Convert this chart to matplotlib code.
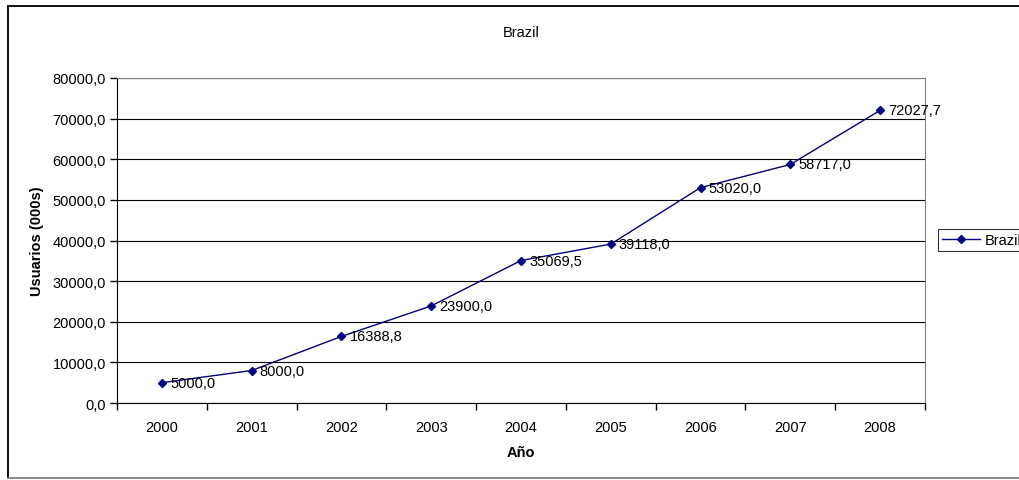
import matplotlib
matplotlib.use("Agg")
import matplotlib.pyplot as plt
from matplotlib.lines import Line2D
from matplotlib.ticker import FuncFormatter, MultipleLocator

plt.rcParams['font.family'] = ['Liberation Sans', 'DejaVu Sans']

years = ['2000', '2001', '2002', '2003', '2004', '2005', '2006', '2007', '2008']
users = [5000.0, 8000.0, 16388.8, 23900.0, 35069.5, 39118.0, 53020.0, 58717.0, 72027.7]
series_name = 'Brazil'

W, H = 1020, 481
FS = 10.5
fig = plt.figure(figsize=(W / 100, H / 100), dpi=100)

# outer chart frame (top/left dark, bottom grey)
left_x, top_y, bot_y = 8 / W, 1 - 7 / H, 1 - 479 / H
fig.lines.append(Line2D([left_x, 1.0], [top_y, top_y], transform=fig.transFigure,
                        color='black', linewidth=1.3))
fig.lines.append(Line2D([left_x, left_x], [bot_y, top_y], transform=fig.transFigure,
                        color='black', linewidth=1.3))
fig.lines.append(Line2D([left_x, 1.0], [bot_y, bot_y], transform=fig.transFigure,
                        color='#808080', linewidth=1.3))

ax = fig.add_axes([117 / W, 1 - 404 / H, (925 - 117) / W, (404 - 79) / H])
x = list(range(len(years)))
ax.plot(x, users, color='#000080', linewidth=1, marker='D', markersize=4.5,
        label=series_name, zorder=3)
for xi, v in zip(x, users):
    ax.text(xi + 0.09, v, f"{v:.1f}".replace('.', ','), fontsize=FS,
            va='center', ha='left', color='black', zorder=4)

ax.set_xlim(-0.5, len(years) - 0.5)
ax.set_ylim(0, 80000)
ax.yaxis.set_major_locator(MultipleLocator(10000))
ax.yaxis.set_major_formatter(FuncFormatter(lambda v, p: f"{v:.1f}".replace('.', ',')))
ax.set_xticks(x)
ax.set_xticklabels(years)
ax.set_xticks([i - 0.5 for i in range(len(years) + 1)], minor=True)
ax.tick_params(axis='x', which='major', length=0, pad=12, labelsize=FS)
ax.tick_params(axis='x', which='minor', length=5, direction='out', width=1)
ax.tick_params(axis='y', length=5, direction='out', width=1, labelsize=FS, pad=3)

ax.grid(axis='y', color='black', linewidth=0.8)
ax.set_axisbelow(True)
for side in ('top', 'right'):
    ax.spines[side].set_color('#808080')
ax.spines['left'].set_color('black')
ax.spines['bottom'].set_color('black')

ax.set_title('Brazil', fontsize=FS, pad=30)
ax.set_xlabel('Año', fontsize=FS, fontweight='bold', labelpad=8)
ax.set_ylabel('Usuarios (000s)', fontsize=FS, fontweight='bold', labelpad=6)

leg = ax.legend(loc='center left', bbox_to_anchor=(938 / W, 1 - 241 / H),
                bbox_transform=fig.transFigure, frameon=True, fancybox=False,
                fontsize=FS, handlelength=2.6, borderpad=0.3,
                handletextpad=0.3, borderaxespad=0)
leg.get_frame().set_edgecolor('black')
leg.get_frame().set_linewidth(0.8)

fig.savefig('out.png', dpi=100)
